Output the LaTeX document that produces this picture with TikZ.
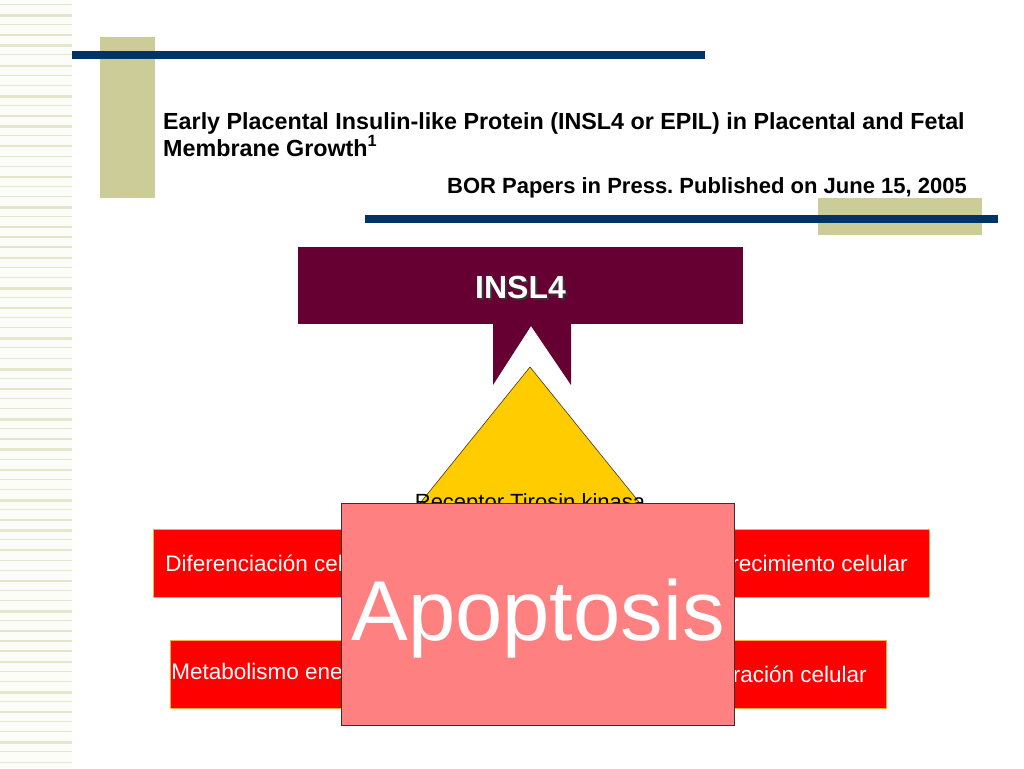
\documentclass[tikz,border=0pt]{standalone}
\usepackage{fontspec}
\setmainfont{Liberation Sans}
\usepackage{tikz}
\usetikzlibrary{positioning}
\frenchspacing
\definecolor{khaki}{RGB}{204,204,153}
\definecolor{navy}{RGB}{0,51,102}
\definecolor{wine}{RGB}{102,0,51}
\definecolor{gold}{RGB}{255,204,0}
\definecolor{rose}{RGB}{255,128,128}
\definecolor{rim}{RGB}{255,170,60}
\tikzstyle{stripe}=[fill=khaki!50]
\tikzstyle{bar}=[fill=navy]
\tikzstyle{block}=[fill=khaki]
\tikzstyle{titletext}=[font=\bfseries\fontsize{23.3}{27}\selectfont, inner sep=0pt]
\tikzstyle{redbox}=[fill=red, draw=rim, line width=0.8pt, text=white, minimum height=68pt, font=\fontsize{22.5}{26}\selectfont]
\newcommand{\fs}[1]{\fontsize{#1}{#1}\selectfont}

\begin{document}
\begin{tikzpicture}[x=1pt, y=-1pt]
    \useasboundingbox (0,0) rectangle (1024,768);

    %strip
    \fill[khaki!6] (0,0) rectangle (72,768);
    \foreach \i in {0,...,75}{
    \pgfmathsetmacro\w{{1.2,2.6,1,1.4,3,1,2,1.2}[mod(\i,8)]}
    \fill[stripe] (0,\i*10.1+4) rectangle (72,\i*10.1+4+\w);
    }

    %header
    \fill[block] (100,37) rectangle (155,198);
    \fill[bar] (72,51) rectangle (705,59);
    \fill[block] (818,198) rectangle (982,235);
    \fill[bar] (365,215) rectangle (998,223);

    \node (title) [titletext, anchor=base west] at (163,129) {Early Placental Insulin-like Protein (INSL4 or EPIL) in Placental and Fetal};
    \node (growth) [titletext, anchor=base west] at (163,156) {Membrane Growth\textsuperscript{1}};
    \node (press) [titletext, font=\bfseries\fs{22}, anchor=base east] at (967,193) {BOR Papers in Press. Published on June 15, 2005};

    %INSL4
    \node (insl) [fill=wine, minimum width=445pt, minimum height=77pt, inner sep=0pt] at (520.5,285.5) {};
    \fill[wine] (493,323) -- (571,323) -- (571,385) -- (531,326) -- (493,385) -- cycle;
    \node [text=black!80, font=\bfseries\fs{32}] at (522.5,289.5) {INSL4};
    \node (insltext) [text=white, font=\bfseries\fs{32}] at (520.5,287.5) {INSL4};

    %receptor
    \filldraw[fill=gold, draw=black!60!brown, line width=0.6pt] (530,367) -- (702,580) -- (358,580) -- cycle;
    \node (receptor) [anchor=base, font=\fs{22}] at (530,509) {Receptor Tirosin kinasa};

    %effects
    \node (dif) [redbox, anchor=west, inner xsep=12pt] at (153,563) {Diferenciación celular};
    \node (crec) [redbox, anchor=east, inner xsep=22pt] at (930,563) {Crecimiento celular};
    \node (meta) [redbox, anchor=west, inner xsep=1pt] at (170,674) {Metabolismo energético};
    \node (prol) [redbox, anchor=east, inner xsep=20pt] at (887,674) {Proliferación celular};

    %apoptosis
    \node (apop) [fill=rose, draw=black!80, line width=0.6pt, minimum width=393pt, minimum height=222pt] at (537.5,614) {};
    \node (apoptext) [text=white, font=\fs{85}, anchor=base] at (538,640) {Apoptosis};

\end{tikzpicture}
\end{document}
